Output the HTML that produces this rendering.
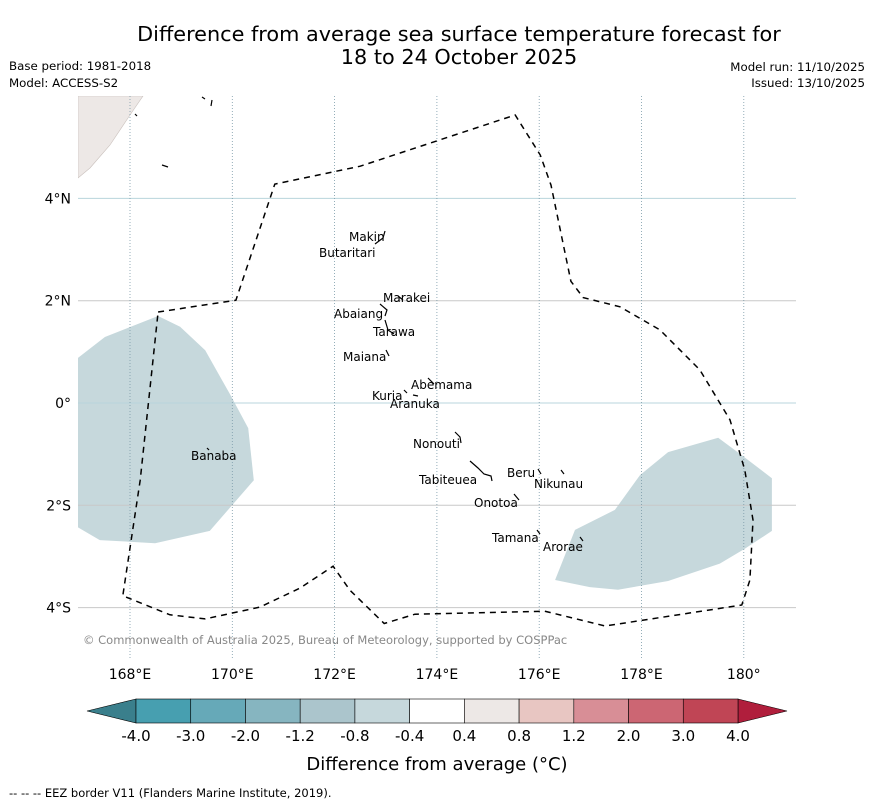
<!DOCTYPE html>
<html><head><meta charset="utf-8"><style>
body{margin:0;background:#fff;width:873px;height:804px;overflow:hidden;font-family:"DejaVu Sans","Liberation Sans",sans-serif}
svg text{font-family:"DejaVu Sans","Liberation Sans",sans-serif}
</style></head><body>
<svg id="c" width="873" height="804" xmlns="http://www.w3.org/2000/svg">
<text x="459" y="41" font-size="20.8" text-anchor="middle">Difference from average sea surface temperature forecast for</text>
<text x="459" y="64" font-size="20.8" text-anchor="middle">18 to 24 October 2025</text>
<text x="9" y="70" font-size="11.8">Base period: 1981-2018</text>
<text x="9" y="87" font-size="11.8">Model: ACCESS-S2</text>
<text x="865" y="71" font-size="11.8" text-anchor="end">Model run: 11/10/2025</text>
<text x="865" y="87" font-size="11.8" text-anchor="end">Issued: 13/10/2025</text>
<g id="map"></g>
<g id="cbar"></g>
<text x="437" y="770" font-size="18" text-anchor="middle">Difference from average (°C)</text>
<text x="9" y="797" font-size="11.5">--  --  -- EEZ border V11 (Flanders Marine Institute, 2019).</text>
</svg>
<script>
const lonTicks=[168,170,172,174,176,178,180];
const lonLabels=["168°E","170°E","172°E","174°E","176°E","178°E","180°"];
const latTicks=[4,2,0,-2,-4];
const latLabels=["4°N","2°N","0°","2°S","4°S"];
const eezLon=[168.55,170.07,170.83,172.50,175.53,176.02,176.23,176.62,176.86,177.58,178.36,179.14,179.73,180.02,180.18,180.12,179.96,177.29,176.11,173.57,172.97,172.30,171.97,171.32,170.54,169.47,168.78,167.86,168.20,168.55];
const eezLat=[1.78,2.01,4.28,4.63,5.63,4.85,4.26,2.38,2.06,1.88,1.43,0.65,-0.33,-1.31,-2.29,-3.46,-3.95,-4.36,-4.07,-4.13,-4.31,-3.66,-3.19,-3.62,-3.99,-4.22,-4.14,-3.77,-1.51,1.78];
const patchWLon=[166.98,167.51,168.55,168.98,169.47,169.96,170.31,170.42,169.56,168.49,167.41,166.98];
const patchWLat=[0.88,1.29,1.70,1.49,1.03,0.16,-0.49,-1.51,-2.50,-2.74,-2.68,-2.43];
const patchELon=[176.31,176.70,177.48,177.97,178.52,179.50,179.96,180.55,180.55,180.02,179.53,178.52,177.54,176.99];
const patchELat=[-3.46,-2.48,-2.09,-1.41,-0.96,-0.68,-1.02,-1.47,-2.50,-2.85,-3.14,-3.48,-3.65,-3.60];
const cbLevels=["-4.0","-3.0","-2.0","-1.2","-0.8","-0.4","0.4","0.8","1.2","2.0","3.0","4.0"];
const cbColors=["#479fb0","#66a9b8","#86b5c0","#abc5cc","#c6d8dc","#ffffff","#ede8e6","#e8c6c2","#d88e96","#cc6673","#c04555"];
const PX=51.15;
const X=lon=>130+(lon-168)*PX, Y=lat=>403-lat*PX;
const NS="http://www.w3.org/2000/svg";
function mk(t,a,p){const e=document.createElementNS(NS,t);for(const k in a)e.setAttribute(k,a[k]);p.appendChild(e);return e;}
const map=document.getElementById('map');
const L=78,R=796,T=96,B=658;
mk('clipPath',{id:'clp'},map).appendChild(document.createElementNS(NS,'rect'));
const cr=map.querySelector('clipPath rect');cr.setAttribute('x',L);cr.setAttribute('y',T);cr.setAttribute('width',R-L);cr.setAttribute('height',B-T);
const g=mk('g',{'clip-path':'url(#clp)'},map);
const land=mk('path',{d:`M${L},${T}L143,${T}L130,115L110,145L90,168L${L},178Z`,fill:'#ede8e6',stroke:'#c9c0bc','stroke-width':0.6},g);


function poly(lo,la){return lo.map((v,i)=>(i?'L':'M')+X(v).toFixed(1)+','+Y(la[i]).toFixed(1)).join('')+'Z';}
const pw=mk('path',{d:poly(patchWLon,patchWLat),fill:'#c6d8dc'},g);


const pe=mk('path',{d:poly(patchELon,patchELat),fill:'#c6d8dc'},g);


latTicks.forEach((v,i)=>{
 const ln=mk('line',{x1:L,x2:R,y1:Y(v),y2:Y(v),stroke:(v==4||v==0)?'#b8d4dc':'#c8c8c8','stroke-width':1},map);
 
 
 const t=mk('text',{x:71,y:Y(v)+5,'font-size':14,'text-anchor':'end'},map);t.textContent=latLabels[i];
 
 
});
lonTicks.forEach((v,i)=>{
 const ln=mk('line',{x1:X(v),x2:X(v),y1:T,y2:B,stroke:'#7a9aa8','stroke-width':0.8,'stroke-dasharray':'1,2'},map);
 
 
 const t=mk('text',{x:X(v),y:679,'font-size':14,'text-anchor':'middle'},map);t.textContent=lonLabels[i];
 
 
});
const eez=mk('path',{d:poly(eezLon,eezLat),fill:'none',stroke:'#000','stroke-width':1.5,'stroke-dasharray':'6,5'},map);


const isl=[["Makin",349,241],["Butaritari",319,257],["Marakei",383,302],["Abaiang",334,318],["Tarawa",373,336],["Maiana",343,361],["Abemama",411,389],["Kuria",372,400],["Aranuka",390,408],["Nonouti",413,448],["Beru",507,477],["Nikunau",534,488],["Tabiteuea",419,484],["Onotoa",474,507],["Tamana",492,542],["Arorae",543,551],["Banaba",191,460]];
isl.forEach(a=>{const t=mk('text',{x:a[1],y:a[2],'font-size':12},map);t.textContent=a[0];
 
 });
const shapes=["M385,231L383,238L375,244","M398,296L403,300","M380,304L387,310L385,316","M385,320L388,330L394,334","M386,350L389,356","M428,378L434,384","M404,390L407,393M413,395L418,396","M455,432L460,437L461,443","M470,461L478,468L484,474L491,476L492,481","M538,469L541,474M561,470L564,474","M514,494L519,500","M537,530L540,534","M580,537L583,541","M207,448L209,450","M135,114L137,116","M162,165L168,167","M202,97L205,99M212,100L211,106"];
shapes.forEach(d=>{const p=mk('path',{d:d,fill:'none',stroke:'#000','stroke-width':1.2},map);
 
 });
const cp=mk('text',{x:83,y:644,'font-size':11.5,fill:'#888'},map);cp.textContent="© Commonwealth of Australia 2025, Bureau of Meteorology, supported by COSPPac";


const cb=document.getElementById('cbar');
const x0=136,x1=738,cy0=699,cy1=723,n=cbColors.length,w=(x1-x0)/n;
const lt=mk('path',{d:`M${x0},${cy0}L87,711L${x0},${cy1}Z`,fill:'#3a7f8c',stroke:'#000','stroke-width':0.6},cb);


const rt=mk('path',{d:`M${x1},${cy0}L787,711L${x1},${cy1}Z`,fill:'#b01e3c',stroke:'#000','stroke-width':0.6},cb);


cbColors.forEach((c,i)=>{const r=mk('rect',{x:x0+i*w,y:cy0,width:w,height:cy1-cy0,fill:c,stroke:'#000','stroke-width':0.6},cb);
 
 });
cbLevels.forEach((v,i)=>{const t=mk('text',{x:x0+i*w,y:741,'font-size':15,'text-anchor':'middle'},cb);t.textContent=v;
 
 });
</script>
</body></html>
